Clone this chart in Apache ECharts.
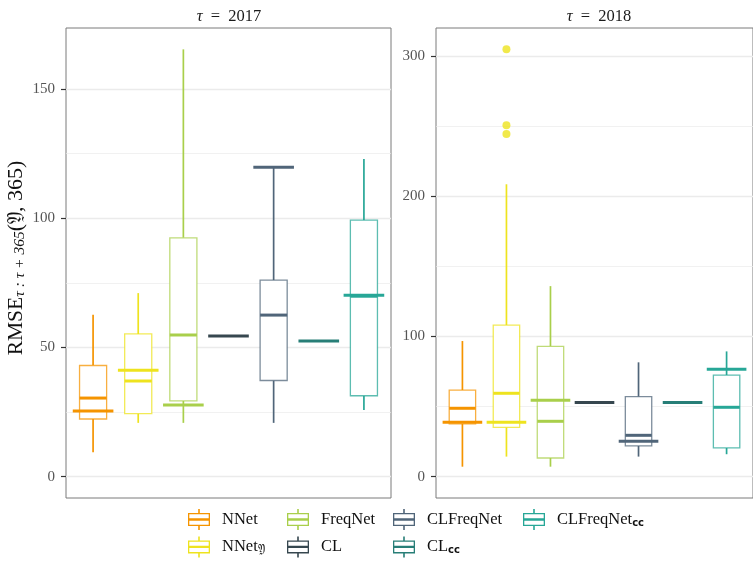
<!DOCTYPE html>
<html>
<head>
<meta charset="utf-8">
<script src="https://cdn.jsdelivr.net/npm/echarts@6/dist/echarts.min.js"></script>
<style>
  html, body { margin: 0; padding: 0; background: #ffffff; }
  #chart { width: 753px; height: 561px; }
</style>
</head>
<body>
<div id="chart"></div>
<script>
// Model order along the x axis (positions 1..7 in each panel)
const models = ['NNet', 'NNet_Y', 'FreqNet', 'CL', 'CLFreqNet', 'CL_cc', 'CLFreqNet_cc'];
const modelColors = ['#F59400', '#EEE31E', '#A9CF4B', '#36474F', '#506579', '#277E77', '#27A797'];

// Boxplot statistics per model: [lower whisker, Q1, median, Q3, upper whisker]
// (null for the deterministic models, which only have one value)
const stats2017 = [
  [9.4, 22.3, 30.4, 43.0, 62.6],
  [20.8, 24.4, 37.0, 55.2, 71.0],
  [20.8, 29.3, 54.8, 92.4, 165.3],
  null,
  [20.8, 37.2, 62.5, 76.0, 119.7],
  null,
  [25.8, 31.3, 69.8, 99.2, 122.9]
];
// Ensemble RMSE per model
const ensemble2017 = [25.4, 41.2, 27.7, 54.4, 119.7, 52.5, 70.2];

const stats2018 = [
  [7.1, 37.6, 48.8, 61.8, 96.8],
  [14.3, 35.2, 59.5, 108.2, 208.7],
  [7.1, 13.3, 39.5, 93.0, 136.0],
  null,
  [14.3, 21.9, 29.5, 57.1, 81.6],
  null,
  [16.0, 20.5, 49.5, 72.5, 89.4]
];
const ensemble2018 = [38.8, 38.8, 54.5, 53.0, 25.2, 53.0, 76.6];
// Outlying runs (model position, RMSE)
const outliers2018 = [[2, 305.0], [2, 250.8], [2, 244.6]];

// Y ticks
const majorTicks2017 = [0, 50, 100, 150];
const minorTicks2017 = [25, 75, 125];
const majorTicks2018 = [0, 100, 200, 300];
const minorTicks2018 = [50, 150, 250];

const serif = 'Liberation Serif';

// y ranges follow the data span plus 5% padding on either side (data start at 0)
function padded(lo, hi) {
  const pad = (hi - lo) * 0.05;
  return [lo - pad, hi + pad];
}
const range2017 = padded(0, 165.3);
const range2018 = padded(0, 305.0);

function fade(hex, a) {
  const n = parseInt(hex.slice(1), 16);
  return 'rgba(' + ((n >> 16) & 255) + ',' + ((n >> 8) & 255) + ',' + (n & 255) + ',' + a + ')';
}

function makeRenderer(color) {
  return function (params, api) {
    const x = api.value(0);
    const half = api.size([0.3, 0])[0];
    const halfEns = api.size([0.45, 0])[0];
    const kids = [];
    const low = api.value(2);
    if (!isNaN(low)) {
      const pLow = api.coord([x, low]);
      const pQ1 = api.coord([x, api.value(3)]);
      const pMed = api.coord([x, api.value(4)]);
      const pQ3 = api.coord([x, api.value(5)]);
      const pHigh = api.coord([x, api.value(6)]);
      kids.push({ type: 'line', shape: { x1: pQ3[0], y1: pQ3[1], x2: pHigh[0], y2: pHigh[1] },
        style: { stroke: color, lineWidth: 1.7 } });
      kids.push({ type: 'line', shape: { x1: pQ1[0], y1: pQ1[1], x2: pLow[0], y2: pLow[1] },
        style: { stroke: color, lineWidth: 1.7 } });
      kids.push({ type: 'rect', shape: { x: pQ3[0] - half, y: pQ3[1], width: 2 * half, height: pQ1[1] - pQ3[1] },
        style: { fill: '#ffffff', stroke: fade(color, 0.75), lineWidth: 1.3 } });
      kids.push({ type: 'line', shape: { x1: pMed[0] - half, y1: pMed[1], x2: pMed[0] + half, y2: pMed[1] },
        style: { stroke: color, lineWidth: 3 } });
    }
    const pEns = api.coord([x, api.value(1)]);
    kids.push({ type: 'line', shape: { x1: pEns[0] - halfEns, y1: pEns[1], x2: pEns[0] + halfEns, y2: pEns[1] },
      style: { stroke: color, lineWidth: 3 } });
    return { type: 'group', children: kids };
  };
}

function panelSeries(stats, ensemble, xAxisIndex, yAxisIndex) {
  return models.map(function (name, i) {
    const s = stats[i];
    const row = s ? [i + 1, ensemble[i]].concat(s) : [i + 1, ensemble[i], '-', '-', '-', '-', '-'];
    return {
      name: name,
      type: 'custom',
      xAxisIndex: xAxisIndex,
      yAxisIndex: yAxisIndex,
      itemStyle: { color: modelColors[i] },
      encode: { x: 0, y: 1 },
      renderItem: makeRenderer(modelColors[i]),
      data: [row],
      silent: true
    };
  });
}

const labelRich = {
  b: { fontFamily: serif, fontSize: 16.5, color: '#111111' },
  f: { fontFamily: 'DejaVu Serif', fontSize: 11, color: '#111111', verticalAlign: 'bottom', padding: [7, 0, 0, 0] },
  s: { fontFamily: 'DejaVu Sans', fontSize: 10, fontWeight: 'bold', color: '#111111', verticalAlign: 'bottom', padding: [7, 0, 0, 0] }
};
const legendText = {
  'NNet': '{b|NNet}',
  'NNet_Y': '{b|NNet}{f|𝔜}',
  'FreqNet': '{b|FreqNet}',
  'CL': '{b|CL}',
  'CLFreqNet': '{b|CLFreqNet}',
  'CL_cc': '{b|CL}{s|cc}',
  'CLFreqNet_cc': '{b|CLFreqNet}{s|cc}'
};
const boxIcon = 'path://M10.2 0H11.8V4.5H10.2Z M0 4H22V17H0Z M1.3 5.3V15.7H20.7V5.3Z M0 9.3H22V11.7H0Z M10.2 17H11.8V21H10.2Z';

function legendColumn(left, names) {
  return {
    orient: 'vertical',
    left: left,
    top: 509,
    padding: 0,
    itemWidth: 22,
    itemHeight: 21,
    itemGap: 6.4,
    icon: boxIcon,
    selectedMode: false,
    data: names,
    formatter: function (n) { return legendText[n]; },
    textStyle: { rich: labelRich, padding: [0, 0, 0, 7] }
  };
}

function yAxisPair(gridIndex, range, major, minor, withName) {
  const main = {
    type: 'value', gridIndex: gridIndex, min: range[0], max: range[1],
    axisLine: { show: false },
    axisTick: { show: true, length: 5, customValues: major, lineStyle: { color: '#333333', width: 1.2 } },
    axisLabel: { customValues: major, margin: 11, fontFamily: serif, fontSize: 15, color: '#555555' },
    splitLine: { show: true, lineStyle: { color: '#EBEBEB', width: 1.3 } }
  };
  if (withName) {
    main.name = '{a|RMSE}{s|τ : τ + 365}{p|(}{f|𝔜}{p|, 365)}';
    main.nameLocation = 'middle';
    main.nameRotate = 90;
    main.nameGap = 38;
    main.nameTextStyle = {
      padding: [0, 0, 0, 10],
      rich: {
        a: { fontFamily: serif, fontSize: 21.5, color: '#111111' },
        p: { fontFamily: serif, fontSize: 22, color: '#111111' },
        s: { fontFamily: serif, fontSize: 15.5, fontStyle: 'italic', color: '#111111', verticalAlign: 'bottom', padding: [8, 0, 0, 0] },
        f: { fontFamily: 'DejaVu Serif', fontSize: 19, color: '#111111' }
      }
    };
  }
  const minorAxis = {
    type: 'value', gridIndex: gridIndex, min: range[0], max: range[1], position: 'left',
    axisLine: { show: false },
    axisTick: { show: false, customValues: minor },
    axisLabel: { show: false },
    splitLine: { show: true, lineStyle: { color: '#EBEBEB', width: 0.7 } }
  };
  return [main, minorAxis];
}

const stripRich = {
  i: { fontFamily: serif, fontStyle: 'italic', fontWeight: 'normal', fontSize: 16.5, color: '#1a1a1a' },
  r: { fontFamily: serif, fontWeight: 'normal', fontSize: 16.5, color: '#1a1a1a' }
};

const chart = echarts.init(document.getElementById('chart'), null, { renderer: 'canvas' });

const option = {
  backgroundColor: '#ffffff',
  animation: false,
  title: [
    { text: '{i|τ}{r|\u00a0 =\u00a0 2017}', left: 224, top: 3, textAlign: 'center',
      textStyle: { fontWeight: 'normal', rich: stripRich } },
    { text: '{i|τ}{r|\u00a0 =\u00a0 2018}', left: 594, top: 3, textAlign: 'center',
      textStyle: { fontWeight: 'normal', rich: stripRich } }
  ],
  grid: [
    { left: 66, top: 28, width: 325, height: 470, show: true, borderColor: '#7a7a7a', borderWidth: 1, backgroundColor: 'transparent' },
    { left: 436, top: 28, width: 325, height: 470, show: true, borderColor: '#7a7a7a', borderWidth: 1, backgroundColor: 'transparent' }
  ],
  xAxis: [
    { type: 'value', gridIndex: 0, min: 0.4, max: 7.6, show: false },
    { type: 'value', gridIndex: 1, min: 0.4, max: 7.6, show: false }
  ],
  yAxis: []
    .concat(yAxisPair(0, range2017, majorTicks2017, minorTicks2017, true))
    .concat(yAxisPair(1, range2018, majorTicks2018, minorTicks2018, false)),
  legend: [
    legendColumn(188, ['NNet', 'NNet_Y']),
    legendColumn(287, ['FreqNet', 'CL']),
    legendColumn(393, ['CLFreqNet', 'CL_cc']),
    legendColumn(523, ['CLFreqNet_cc'])
  ],
  series: panelSeries(stats2017, ensemble2017, 0, 0)
    .concat(panelSeries(stats2018, ensemble2018, 1, 2))
    .concat([{
      name: 'NNet_Y',
      type: 'scatter',
      xAxisIndex: 1,
      yAxisIndex: 2,
      symbol: 'circle',
      symbolSize: 8,
      itemStyle: { color: modelColors[1] },
      data: outliers2018,
      silent: true
    }])
};

chart.setOption(option);
</script>
</body>
</html>
